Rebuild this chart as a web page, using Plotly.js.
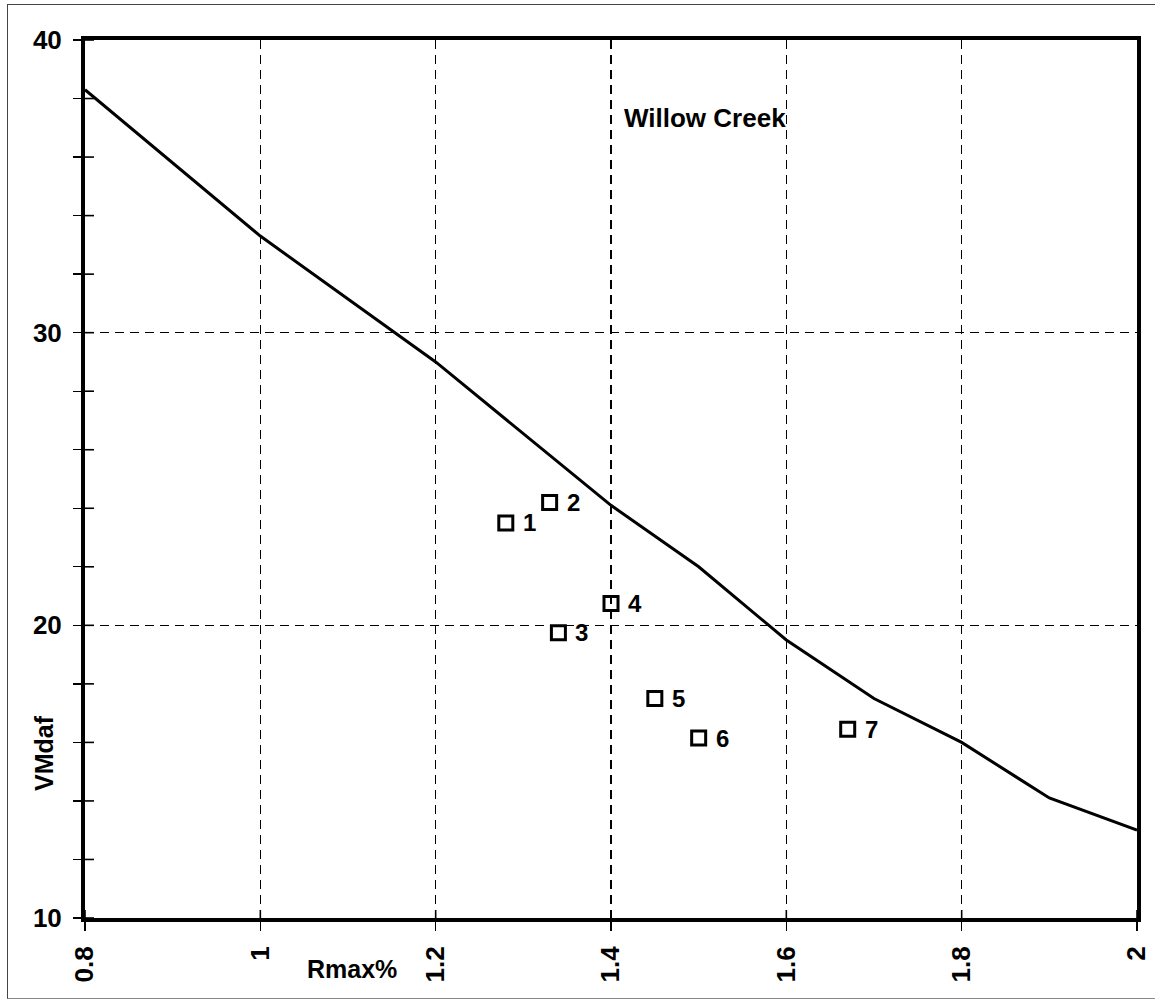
<!DOCTYPE html>
<html>
<head>
<meta charset="utf-8">
<script src="https://cdn.plot.ly/plotly-3.0.1.min.js"></script>
<style>
  html, body { margin: 0; padding: 0; background: #fff; }
  #wrap { position: relative; width: 1162px; height: 1002px; }
  #chart { width: 1162px; height: 1002px; }
  #frame { position: absolute; left: 7px; top: 4px; width: 1148px; height: 995px;
           border-left: 1px solid #444; border-top: 1px solid #444; border-bottom: 1px solid #888;
           pointer-events: none; box-sizing: border-box; }
</style>
</head>
<body>
<div id="wrap">
  <div id="chart"></div>
  <div id="frame"></div>
</div>
<script>
// Curve (rank boundary line)
const curveRmax = [0.8, 1.0, 1.2, 1.4, 1.5, 1.6, 1.7, 1.8, 1.9, 2.0];
const curveVM   = [38.3, 33.3, 29.0, 24.1, 22.0, 19.5, 17.5, 16.0, 14.1, 13.0];

// Willow Creek samples
const sampleRmax   = [1.28, 1.33, 1.34, 1.40, 1.45, 1.50, 1.67];
const sampleVM     = [23.5, 24.2, 19.75, 20.75, 17.5, 16.15, 16.45];
const sampleLabels = ["1", "2", "3", "4", "5", "6", "7"];

const xTickVals = [0.8, 1.0, 1.2, 1.4, 1.6, 1.8, 2.0];
const xTickText = ["0.8", "1", "1.2", "1.4", "1.6", "1.8", "2"];
const yTickVals = [10, 20, 30, 40];
const yTickText = ["10", "20", "30", "40"];
const yMinorVals = [12, 14, 16, 18, 22, 24, 26, 28, 32, 34, 36, 38];

const chartTitle = "Willow Creek";
const xLabel = "Rmax%";
const yLabel = "VMdaf";

const FONT = "Arial, 'Liberation Sans', sans-serif";
const X_MIN = xTickVals[0], X_MAX = xTickVals[xTickVals.length - 1];
const Y_MIN = yTickVals[0], Y_MAX = yTickVals[yTickVals.length - 1];

const W = 1162, H = 1002;
const M = { l: 85, r: 25, t: 40, b: 84 };
const PW = W - M.l - M.r, PH = H - M.t - M.b;

// Inward halves of the crossing tick marks, as one line trace with gaps
const yTickInX = [], yTickInY = [];
yTickVals.concat(yMinorVals).forEach(v => {
  yTickInX.push(X_MIN, X_MIN + 9 * (X_MAX - X_MIN) / PW, null);
  yTickInY.push(v, v, null);
});
const xTickInX = [], xTickInY = [];
xTickVals.forEach(v => {
  xTickInX.push(v, v, null);
  xTickInY.push(Y_MIN, Y_MIN + 8 * (Y_MAX - Y_MIN) / PH, null);
});

const traces = [
  {
    x: curveRmax, y: curveVM, type: "scatter", mode: "lines",
    line: { color: "#000", width: 3 }, hoverinfo: "skip", showlegend: false
  },
  {
    x: sampleRmax, y: sampleVM, type: "scatter", mode: "markers",
    marker: { symbol: "square-open", size: 14, color: "#000", line: { color: "#000", width: 3 } },
    cliponaxis: false, showlegend: false
  },
  {
    x: yTickInX, y: yTickInY, type: "scatter", mode: "lines", connectgaps: false,
    line: { color: "#000", width: 1.6 }, hoverinfo: "skip", showlegend: false
  },
  {
    x: xTickInX, y: xTickInY, type: "scatter", mode: "lines", connectgaps: false,
    line: { color: "#000", width: 1.6 }, hoverinfo: "skip", showlegend: false
  }
];

const labelAnnotations = sampleRmax.map((x, i) => ({
  x: x, y: sampleVM[i], xref: "x", yref: "y", text: sampleLabels[i],
  showarrow: false, xanchor: "left", yanchor: "middle", xshift: 15, yshift: 0,
  font: { family: FONT, size: 24, color: "#000", weight: "bold" }
}));

const layout = {
  width: W, height: H,
  margin: M,
  paper_bgcolor: "#fff", plot_bgcolor: "#fff",
  font: { family: FONT, color: "#000" },
  showlegend: false,
  xaxis: {
    range: [X_MIN, X_MAX], tickmode: "array", tickvals: xTickVals, ticktext: xTickText,
    tickangle: -90, tickfont: { family: FONT, size: 26, color: "#000", weight: "bold" },
    ticks: "outside", ticklen: 9, tickwidth: 1.6, tickcolor: "#000",
    ticklabelstandoff: 5,
    showline: true, linewidth: 4, linecolor: "#000", mirror: true,
    showgrid: true, gridcolor: "#000", gridwidth: 1.5, griddash: "9px,6px",
    zeroline: false
  },
  yaxis: {
    range: [Y_MIN, Y_MAX], tickmode: "array", tickvals: yTickVals, ticktext: yTickText,
    tickfont: { family: FONT, size: 26, color: "#000", weight: "bold" },
    ticks: "outside", ticklen: 8, tickwidth: 1.6, tickcolor: "#000",
    ticklabelstandoff: 6,
    minor: { tickvals: yMinorVals, ticks: "outside", ticklen: 8, tickwidth: 1.4, tickcolor: "#000", showgrid: false },
    showline: true, linewidth: 4, linecolor: "#000", mirror: true,
    showgrid: true, gridcolor: "#000", gridwidth: 1.5, griddash: "9px,6px",
    zeroline: false
  },
  annotations: [
    { text: chartTitle, xref: "paper", yref: "paper", x: 0.589, y: 0.911, xanchor: "center", yanchor: "middle",
      showarrow: false, font: { family: FONT, size: 26, color: "#000", weight: "bold" } },
    { text: xLabel, xref: "paper", yref: "paper", x: 0.254, y: -0.058, xanchor: "center", yanchor: "middle",
      showarrow: false, font: { family: FONT, size: 25, color: "#000", weight: "bold" } },
    { text: yLabel, xref: "paper", yref: "paper", x: -0.039, y: 0.188, xanchor: "center", yanchor: "middle",
      textangle: -90, showarrow: false, font: { family: FONT, size: 25, color: "#000", weight: "bold" } }
  ].concat(labelAnnotations)
};

Plotly.newPlot("chart", traces, layout, { displayModeBar: false, staticPlot: true });
</script>
</body>
</html>
